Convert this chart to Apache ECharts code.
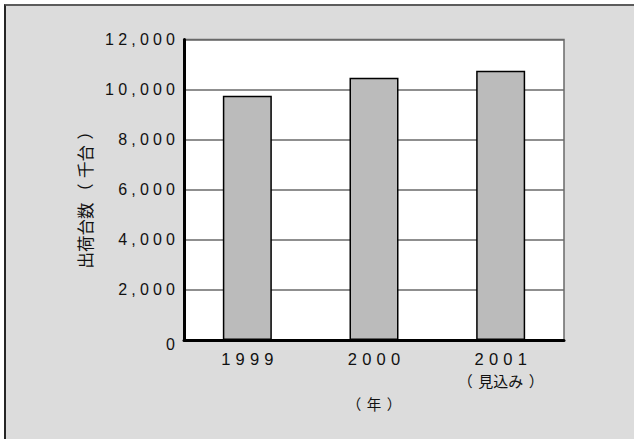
<!DOCTYPE html>
<html>
<head>
<meta charset="utf-8">
<script src="https://cdn.jsdelivr.net/npm/echarts@6/dist/echarts.min.js"></script>
<style>
  html, body { margin: 0; padding: 0; background: #ffffff; }
  #wrap { position: relative; width: 634px; height: 439px; overflow: hidden; }
  #frame {
    position: absolute; left: 4px; top: 4px; right: -4px; bottom: -4px;
    background: #dcdcdc;
    border-top: 2px solid #5c5c5c;
    border-left: 2px solid #262626;
  }
  #chart { position: absolute; left: 0; top: 0; width: 634px; height: 439px; }
</style>
</head>
<body>
<div id="wrap">
  <div id="frame"></div>
  <div id="chart"></div>
</div>
<script>
// Shipments by year (thousand units)
const years = ['1999', '2000', '2001'];
const yearNotes = ['', '', '（見込み）'];
const shipments = [9750, 10470, 10750];

// Value axis range
const yMin = 0;
const yMax = 12000;
const yStep = 2000;

const yAxisTitle = '出荷台数（千台）';
const xAxisTitle = '（年）';

const FONT = '"Liberation Sans", Arial, "Noto Sans CJK JP", sans-serif';
const JP_FONT = '"Noto Sans CJK JP", "Liberation Sans", sans-serif';

const chart = echarts.init(document.getElementById('chart'), null, { renderer: 'svg' });

chart.setOption({
  animation: false,
  backgroundColor: 'transparent',
  grid: {
    left: 184, right: 70, top: 39.5, bottom: 99,
    show: true,
    backgroundColor: '#ffffff',
    borderColor: '#6a6a6a',
    borderWidth: 1.5
  },
  xAxis: {
    type: 'category',
    data: years,
    name: xAxisTitle,
    nameLocation: 'middle',
    nameGap: 56,
    nameTextStyle: { fontFamily: JP_FONT, fontSize: 14.5, color: '#111' },
    axisLine: { lineStyle: { color: '#000', width: 3 } },
    axisTick: { show: false },
    axisLabel: {
      margin: 9,
      interval: 0,
      formatter: (v, i) => yearNotes[i] ? '{y|' + v + '}\n{n|' + yearNotes[i] + '}' : '{y|' + v + '}',
      rich: {
        y: { fontFamily: FONT, fontSize: 16.5, color: '#111', lineHeight: 20 },
        n: { fontFamily: JP_FONT, fontSize: 15, color: '#111', lineHeight: 21 }
      }
    }
  },
  yAxis: {
    type: 'value',
    min: yMin,
    max: yMax,
    interval: yStep,
    name: yAxisTitle,
    nameLocation: 'middle',
    nameGap: 91,
    nameTextStyle: { fontFamily: JP_FONT, fontSize: 16.5, color: '#111', padding: [0, 12, 0, 0] },
    axisLine: { show: true, lineStyle: { color: '#000', width: 3 } },
    axisTick: { show: false },
    splitLine: { lineStyle: { color: '#6a6a6a', width: 1.5 } },
    axisLabel: {
      margin: 9,
      fontFamily: FONT,
      fontSize: 16,
      color: '#111',
      formatter: v => v === 0 ? '{z|0}' : v.toLocaleString('en-US'),
      rich: {
        z: { fontFamily: FONT, fontSize: 16, color: '#111', padding: [8, 0, 0, 0] }
      }
    }
  },
  series: [{
    type: 'bar',
    data: shipments,
    barWidth: 49,
    itemStyle: { color: '#bbbbbb', borderColor: '#000', borderWidth: 1.5 },
    silent: true
  }]
});

// Text spacing of the SVG labels: wider tracking for numbers,
// extra room inside the full-width brackets of the Japanese captions
const GAP_INSIDE = 5.5;
const GAP_BEFORE_OPEN = 2.5;

function bracketGap(prev, c) {
  if (prev === '（') return GAP_INSIDE;
  if (c === '）') return GAP_INSIDE;
  if (c === '（') return GAP_BEFORE_OPEN;
  return 0;
}

function spaceLabels() {
  const texts = document.querySelectorAll('#chart svg text');
  texts.forEach(t => {
    if (t.dataset.spaced) return;
    const s = t.textContent;
    const trimmed = s.trim();
    let sp = 0;
    if (years.indexOf(trimmed) >= 0) sp = 5.2;
    else if (/^[\d,]+$/.test(trimmed)) sp = 4.2;
    if (sp) {
      t.style.letterSpacing = sp + 'px';
      const anchor = t.getAttribute('text-anchor');
      if (anchor === 'middle') t.setAttribute('dx', sp / 2);
      else if (anchor === 'end') t.setAttribute('dx', sp);
      t.dataset.spaced = '1';
      return;
    }
    if (/[（）]/.test(s)) {
      const chars = Array.from(s);
      while (t.firstChild) t.removeChild(t.firstChild);
      chars.forEach((c, i) => {
        const span = document.createElementNS('http://www.w3.org/2000/svg', 'tspan');
        span.textContent = c;
        const g = i > 0 ? bracketGap(chars[i - 1], c) : 0;
        if (g) span.setAttribute('dx', g);
        t.appendChild(span);
      });
      t.dataset.spaced = '1';
    }
  });
}
spaceLabels();
chart.on('finished', spaceLabels);
</script>
</body>
</html>
